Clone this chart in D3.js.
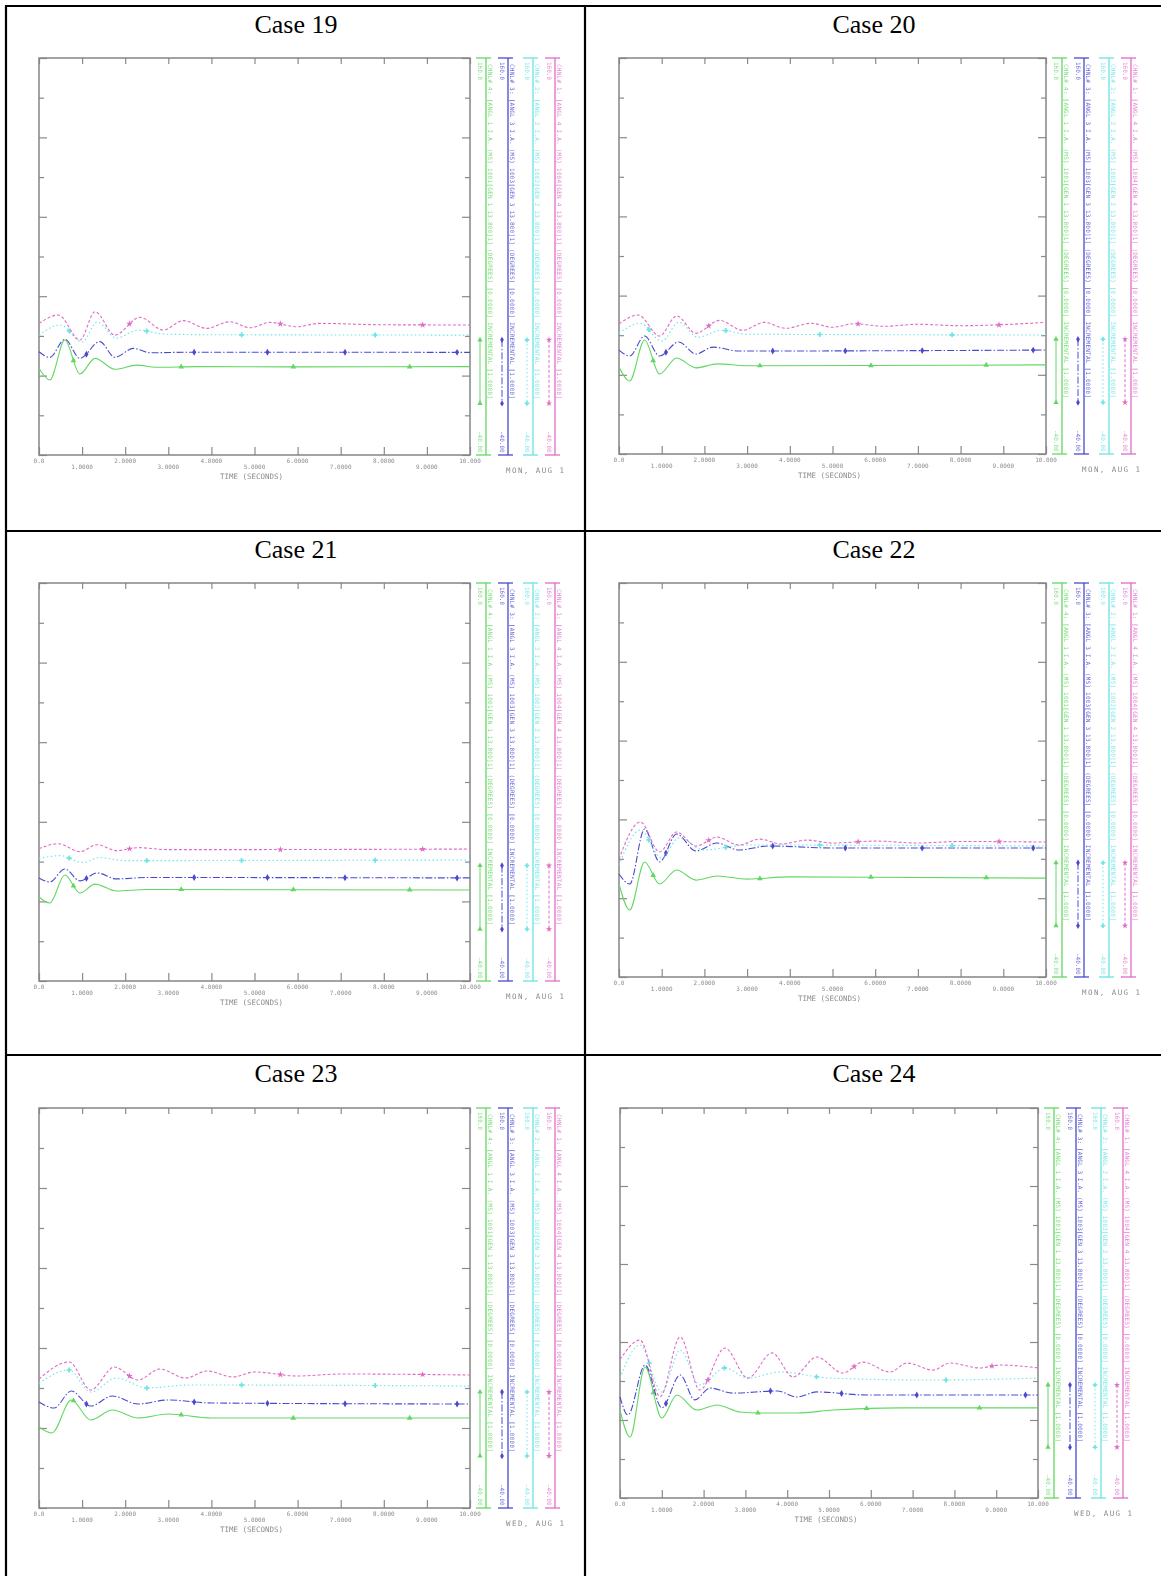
<!DOCTYPE html>
<html>
<head>
<meta http-equiv="Content-Type" content="text/html; charset=UTF-8">
<style>
    body { margin: 0; background: #fff; }
    svg { display: block; }
</style>
</head>
<body>
<svg id="chart" width="1161" height="1576"></svg>
<script src="https://cdn.jsdelivr.net/npm/d3@7"></script>
<script>

// ---- data (time in s, value in degrees) ----
let caseNames = ["Case 19", "Case 20", "Case 21", "Case 22", "Case 23", "Case 24"];
let dateLabels = ["MON, AUG 1", "MON, AUG 1", "MON, AUG 1", "MON, AUG 1", "WED, AUG 1", "WED, AUG 1"];
let timeTicks = [0, 1, 2, 3, 4, 5, 6, 7, 8, 9, 10];
let timeTickLabels = ["0.0", "1.0000", "2.0000", "3.0000", "4.0000", "5.0000", "6.0000", "7.0000", "8.0000", "9.0000", "10.000"];
let valueTicks = [-40, -20, 0, 20, 40, 60, 80, 100, 120, 140, 160];
let channelTop = ["160.0", "160.0", "160.0", "160.0"];
let channelBottom = ["-40.00", "-40.00", "-40.00", "-40.00"];
let channelText = [
    "CHNL# 4: [ANGL 1 I.A. (MS)  1001[GEN 1  13.800]1]   (DEGREES)   [0.0000]   INCREMENTAL   [1.0000]",
    "CHNL# 3: [ANGL 3 I.A. (MS)  1003[GEN 3  13.800]1]   (DEGREES)   [0.0000]   INCREMENTAL   [1.0000]",
    "CHNL# 2: [ANGL 2 I.A. (MS)  1002[GEN 2  13.800]1]   (DEGREES)   [0.0000]   INCREMENTAL   [1.0000]",
    "CHNL# 1: [ANGL 4 I.A. (MS)  1004[GEN 4  13.800]1]   (DEGREES)   [0.0000]   INCREMENTAL   [1.0000]"
];

let case19Green = [[0,3.7],[0.25,-2.2],[0.6,17.9],[0.95,0.8],[1.3,8.7],[1.76,3.2],[2.27,5.3],[2.73,4.2],[3.66,4.5],[6,4.4],[10,4.5]];
let case19Blue = [[0,12.0],[0.25,9.2],[0.6,18.3],[0.95,8.7],[1.41,17.1],[1.76,9.2],[2.19,13.7],[2.58,11.5],[3.5,11.8],[10,11.7]];
let case19Cyan = [[0,20.4],[0.5,25.5],[1.0,16.9],[1.35,27],[1.8,18.9],[2.3,22.9],[2.9,20.9],[4,20.6],[10,20.4]];
let case19Magenta = [[0,26.3],[0.45,30.5],[0.95,17.9],[1.3,32.2],[1.76,20.4],[2.34,29.4],[2.88,23],[3.35,27.7],[3.89,23.8],[4.43,27.1],[4.9,24.1],[5.36,26.8],[5.98,24.6],[6.5,26.3],[8,25.6],[10,25.5]];

let case20Green = [[0,4],[0.25,-3.1],[0.6,17.6],[0.95,0.4],[1.35,8.5],[1.8,3.5],[2.3,5.5],[3,4.6],[10,5]];
let case20Blue = [[0,12.5],[0.25,9.5],[0.6,19.6],[0.95,9.5],[1.4,16.6],[1.8,10.5],[2.2,14],[2.8,12],[10,12.5]];
let case20Cyan = [[0,21],[0.5,26],[1.0,17],[1.4,26.5],[1.85,19],[2.4,22.5],[3,20.5],[10,20.1]];
let case20Magenta = [[0,25.7],[0.45,30.2],[0.95,19.6],[1.35,29.7],[1.8,21],[2.35,27.5],[2.9,22.5],[3.4,26.5],[3.9,23.5],[4.5,26],[5,24],[5.5,25.8],[6.2,24.5],[7,25.5],[8,24.8],[10,26.5]];

let case21Green = [[0,2.2],[0.25,-0.8],[0.6,13.3],[0.95,4.2],[1.3,8.7],[1.8,5.2],[2.5,6],[10,5.7]];
let case21Blue = [[0,11.8],[0.25,9.8],[0.6,16.3],[0.95,10.3],[1.35,14.3],[1.8,11.3],[2.5,12],[10,11.8]];
let case21Cyan = [[0,21.5],[0.5,23],[1.0,19.5],[1.4,22],[2,20.5],[10,20.8]];
let case21Magenta = [[0,26.5],[0.45,29],[0.95,25],[1.35,28.5],[1.8,25.5],[2.3,27],[3,26],[10,26.3]];

let case22Green = [[0,7.2],[0.25,-6],[0.6,18.4],[0.95,7.2],[1.35,14.3],[1.8,9.2],[2.3,11.3],[3,9.7],[4,10.8],[10,10.2]];
let case22Blue = [[0,12.3],[0.25,7.2],[0.6,35.1],[0.95,18.4],[1.35,32.6],[1.8,24],[2.3,28],[2.8,24.5],[3.5,26.5],[5,25.5],[10,25.5]];
let case22Cyan = [[0,16.9],[0.5,34.6],[1.0,20.4],[1.4,30.6],[2,24.5],[3,27],[10,26.5]];
let case22Magenta = [[0,19.9],[0.5,38.7],[0.95,23.5],[1.35,33.6],[1.8,26.5],[2.3,31],[2.8,27],[3.3,30],[3.8,27.5],[4.4,29.5],[5,28],[6,29],[7,28],[8,28.8],[10,28.5]];

let case23Green = [[0,0.5],[0.3,-2.5],[0.75,14],[1.2,4],[1.7,9],[2.3,5],[3,7],[4,5],[10,5]];
let case23Blue = [[0,13],[0.35,10],[0.75,18.5],[1.2,11],[1.7,16],[2.3,12],[3,14],[4,12.5],[10,12]];
let case23Cyan = [[0,22.5],[0.7,29],[1.2,18],[1.8,25],[2.5,20],[3.5,21.5],[10,21]];
let case23Magenta = [[0,24.5],[0.7,33],[1.2,19],[1.75,30.5],[2.3,24],[2.8,29.5],[3.4,25],[3.9,28.5],[4.5,25.5],[5,28],[6,26],[7,27],[10,26.5]];

let case24Green = [[0,5.1],[0.24,-8.7],[0.6,27.2],[1.0,1],[1.36,12.8],[1.84,5.1],[2.32,7.7],[2.87,4.1],[3.35,3.6],[4.23,3.6],[5.1,5.1],[6.7,6.2],[10,6.2]];
let case24Blue = [[0,11.8],[0.19,2.6],[0.6,28.2],[1.0,6.2],[1.44,23.1],[1.79,10.3],[2.15,16.4],[2.7,13.8],[3.76,14.9],[4.23,11.8],[4.71,14.4],[5.91,12.8],[10,12.8]];
let case24Cyan = [[0,21.5],[0.48,38.5],[1.0,14.4],[1.44,35.9],[1.91,18],[2.51,26.7],[3.06,21.5],[3.83,24.6],[5.02,21.5],[7.49,20.5],[10,21.5]];
let case24Magenta = [[0,31],[0.48,41],[0.96,12],[1.44,42.6],[1.91,15.4],[2.51,36.9],[3.06,21.5],[3.64,34.4],[4.14,22.1],[4.71,32.3],[5.33,24.1],[5.81,29.7],[6.46,24.6],[6.87,29.2],[7.49,25.6],[7.89,29.2],[8.61,26.7],[9.09,28.2],[10,26.7]];

let allSeries = [
    [case19Green, case19Blue, case19Cyan, case19Magenta],
    [case20Green, case20Blue, case20Cyan, case20Magenta],
    [case21Green, case21Blue, case21Cyan, case21Magenta],
    [case22Green, case22Blue, case22Cyan, case22Magenta],
    [case23Green, case23Blue, case23Cyan, case23Magenta],
    [case24Green, case24Blue, case24Cyan, case24Magenta]
];

// ---- styles / layout ----
let colors = ["#62d862", "#4a4acf", "#6ae4e4", "#e06cc8"];
let dashes = [null, "7,2,1.5,2", "1.5,2.5", "3,2"];
let markerTimes = [[0.8, 3.3, 5.9, 8.6], [1.1, 3.6, 5.3, 7.1, 9.7], [0.7, 2.5, 4.7, 7.8], [2.1, 5.6, 8.9]];
let markerShapes = [d3.symbolTriangle, d3.symbolDiamond, d3.symbolCross, d3.symbolStar];
let stripOffsets = [16, 38, 63, 85];

let boxes = [
    { x0: 39, x1: 470, y0: 58, y1: 455, tx: 296, ty: 33 },
    { x0: 619, x1: 1046, y0: 58, y1: 454, tx: 874, ty: 33 },
    { x0: 39, x1: 470, y0: 583, y1: 981, tx: 296, ty: 558 },
    { x0: 619, x1: 1046, y0: 583, y1: 977, tx: 874, ty: 558 },
    { x0: 39, x1: 470, y0: 1108, y1: 1508, tx: 296, ty: 1082 },
    { x0: 620, x1: 1038, y0: 1108, y1: 1498, tx: 874, ty: 1082 }
];

let svg = d3.select("#chart");
let mono = "DejaVu Sans Mono, monospace";

// soft look of the scanned plots
svg.append("defs").append("filter").attr("id", "soft")
    .append("feGaussianBlur").attr("stdDeviation", 0.35);

// table grid
let grid = svg.append("g").attr("stroke", "#000").attr("stroke-width", 2.2);
[6, 531, 1055].forEach(y => grid.append("line").attr("x1", 5).attr("x2", 1161).attr("y1", y).attr("y2", y));
[6, 585].forEach(x => grid.append("line").attr("x1", x).attr("x2", x).attr("y1", 5).attr("y2", 1576));

boxes.forEach((b, i) => {
    svg.append("text")
        .attr("x", b.tx).attr("y", b.ty)
        .attr("text-anchor", "middle")
        .style("font-family", "Liberation Serif, Times New Roman, serif")
        .style("font-size", "26px")
        .text(caseNames[i]);

    let g = svg.append("g").attr("filter", "url(#soft)");

    let x = d3.scaleLinear().domain([0, 10]).range([b.x0, b.x1]);
    let y = d3.scaleLinear().domain([-40, 160]).range([b.y1, b.y0]);

    // inward ticks on all four sides
    let tickLen = v => ((v + 40) / 20) % 2 === 0 ? 8 : 5;
    let axes = [
        g.append("g").attr("transform", `translate(0,${b.y1})`).call(d3.axisBottom(x).tickValues(timeTicks).tickSize(-8).tickFormat("")),
        g.append("g").attr("transform", `translate(0,${b.y0})`).call(d3.axisTop(x).tickValues(timeTicks).tickSize(-6).tickFormat("")),
        g.append("g").attr("transform", `translate(${b.x0},0)`).call(d3.axisLeft(y).tickValues(valueTicks).tickSize(-6).tickFormat("")),
        g.append("g").attr("transform", `translate(${b.x1},0)`).call(d3.axisRight(y).tickValues(valueTicks).tickSize(-6).tickFormat(""))
    ];
    axes.forEach(a => {
        a.select(".domain").remove();
        a.selectAll("line").attr("stroke", "#8a8a8a").attr("stroke-width", 1.2);
    });
    axes[2].selectAll(".tick line").attr("x2", d => tickLen(d));
    axes[3].selectAll(".tick line").attr("x2", d => -tickLen(d));

    g.append("rect")
        .attr("x", b.x0).attr("y", b.y0)
        .attr("width", b.x1 - b.x0).attr("height", b.y1 - b.y0)
        .attr("fill", "none").attr("stroke", "#858585").attr("stroke-width", 1.5);

    // staggered time labels
    g.selectAll(".tl").data(timeTicks).enter().append("text")
        .attr("x", d => x(d))
        .attr("y", (d, k) => b.y1 + (k % 2 === 0 ? 8 : 14))
        .attr("text-anchor", "middle")
        .style("font-family", mono).style("font-size", "6px").style("fill", "#8c8c8c")
        .text((d, k) => timeTickLabels[k]);

    g.append("text")
        .attr("x", (b.x0 + b.x1) / 2 - 3).attr("y", b.y1 + 24)
        .attr("text-anchor", "middle")
        .style("font-family", mono).style("font-size", "7.5px").style("fill", "#8c8c8c")
        .text("TIME  (SECONDS)");

    g.append("text")
        .attr("x", b.x1 + 36).attr("y", b.y1 + 18)
        .style("font-family", mono).style("font-size", "7.5px").style("fill", "#8c8c8c")
        .attr("textLength", 58).attr("lengthAdjust", "spacing")
        .text(dateLabels[i]);

    // traces
    let line = d3.line().x(d => x(d[0])).y(d => y(d[1])).curve(d3.curveMonotoneX);
    allSeries[i].forEach((s, c) => {
        let path = g.append("path")
            .datum(s)
            .attr("d", line)
            .attr("fill", "none")
            .attr("stroke", colors[c])
            .attr("stroke-width", 1.1)
            .attr("stroke-dasharray", dashes[c]);

        // symbols along the trace
        let node = path.node(), total = node.getTotalLength();
        markerTimes[c].forEach(t => {
            let px = x(t), lo = 0, hi = total;
            for (let k = 0; k < 30; k++) {
                let mid = (lo + hi) / 2;
                if (node.getPointAtLength(mid).x < px) lo = mid; else hi = mid;
            }
            let p = node.getPointAtLength(lo);
            g.append("path")
                .attr("d", d3.symbol().type(markerShapes[c]).size(14))
                .attr("transform", `translate(${p.x},${p.y})`)
                .attr("fill", colors[c]);
        });
    });

    // channel legend strips
    stripOffsets.forEach((off, c) => {
        let lx = b.x1 + off;
        let sg = g.append("g").attr("stroke", colors[c]).attr("stroke-width", 1.3);
        sg.append("line").attr("x1", lx).attr("x2", lx).attr("y1", b.y0).attr("y2", b.y1);
        sg.append("line").attr("x1", lx - 10).attr("x2", lx + 5).attr("y1", b.y0).attr("y2", b.y0);
        sg.append("line").attr("x1", lx - 10).attr("x2", lx + 5).attr("y1", b.y1).attr("y2", b.y1);

        let h = b.y1 - b.y0;
        let sy0 = b.y0 + 0.71 * h, sy1 = b.y0 + 0.87 * h;
        g.append("line")
            .attr("x1", lx - 6).attr("x2", lx - 6).attr("y1", sy0).attr("y2", sy1)
            .attr("stroke", colors[c]).attr("stroke-width", 1)
            .attr("stroke-dasharray", dashes[c]);
        [sy0, sy1].forEach(yy => g.append("path")
            .attr("d", d3.symbol().type(markerShapes[c]).size(12))
            .attr("transform", `translate(${lx - 6},${yy})`)
            .attr("fill", colors[c]));

        let txt = (tx, ty, s, len) => {
            let t = g.append("text")
                .attr("transform", `translate(${tx},${ty}) rotate(90)`)
                .style("font-family", mono).style("font-size", "6px")
                .style("fill", colors[c]).style("opacity", 0.85)
                .text(s);
            if (len) t.attr("textLength", len).attr("lengthAdjust", "spacing");
        };
        txt(lx - 8, b.y0 + 4, channelTop[c]);
        txt(lx - 8, b.y1 - 24, channelBottom[c]);
        txt(lx + 1.5, b.y0 + 6, channelText[c], h - 62);
    });
});

</script>
</body>
</html>
